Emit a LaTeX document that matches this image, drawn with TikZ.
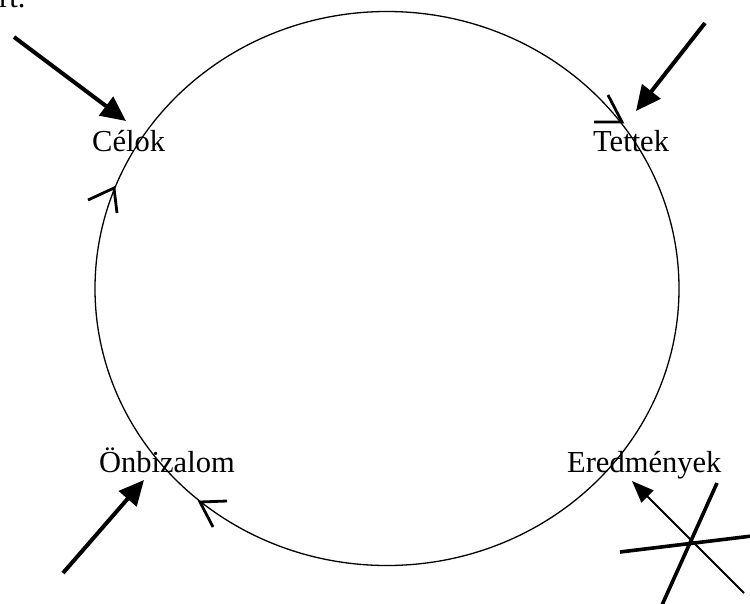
\documentclass[tikz,border=0pt]{standalone}
\usepackage{fontspec}
\setmainfont{Liberation Serif}
\usetikzlibrary{
    arrows.meta,
    positioning,
    calc
}
\tikzset{
    stage/.style={
        font=\fontsize{30.5}{36}\selectfont,
        anchor=base west,
        inner sep=0pt
    }
}
\tikzset{
    cycleline/.style={
        draw,
        line width=1.3pt
    }
}
\tikzset{
    turnmark/.style={
        draw,
        line width=2.8pt,
        line join=miter
    }
}
\tikzset{
    pusharrow/.style={
        draw,
        line width=4pt,
        -{Triangle[length=25pt,width=23pt]}
    }
}
\tikzset{
    thinarrow/.style={
        draw,
        line width=1.8pt,
        -{Triangle[length=22pt,width=17pt]}
    }
}
\tikzset{
    barline/.style={
        draw,
        line width=3.6pt
    }
}

\begin{document}
\begin{tikzpicture}[x=1pt, y=-1pt]

\clip (0,0) rectangle (750,603);

% ------------------------------------------------------------
% The cycle
% ------------------------------------------------------------

\draw[cycleline] (387,288.5) ellipse [x radius=292, y radius=277];

\node[stage] (rest) at (-1,7) {rt.};

\node[stage] (celok) at (92,151) {Célok};
\node[stage] (tettek) at (593,151) {Tettek};
\node[stage] (onbiz) at (99,472) {Önbizalom};
\node[stage] (eredm) at (567,472) {Eredmények};

% direction marks on the circle
\draw[turnmark] (88,200) -- (114,188) -- (117,213);
\draw[turnmark] (608,95) -- (622,122) -- (594,122);
\draw[turnmark] (227,501) -- (200,502) -- (213,527);

% ------------------------------------------------------------
% Influences from outside
% ------------------------------------------------------------

\coordinate (inA) at (14,37);
\coordinate (tipA) at (126,121);
\coordinate (inB) at (705,23);
\coordinate (tipB) at (636,111);
\coordinate (inC) at (63,573);
\coordinate (tipC) at (144,480);
\coordinate (inD) at (744,593);
\coordinate (tipD) at (632,481);

\draw[pusharrow] (inA) -- (tipA);
\draw[pusharrow] (inB) -- (tipB);
\draw[pusharrow] (inC) -- (tipC);
\draw[thinarrow] (inD) -- (tipD);

% blocked path
\coordinate (crossW) at (620,552);
\coordinate (crossE) at (752,536);
\coordinate (crossS) at (662,605);
\coordinate (crossN) at (717,483);
\draw[barline] (crossW) -- (crossE);
\draw[barline] (crossS) -- (crossN);

\end{tikzpicture}
\end{document}
